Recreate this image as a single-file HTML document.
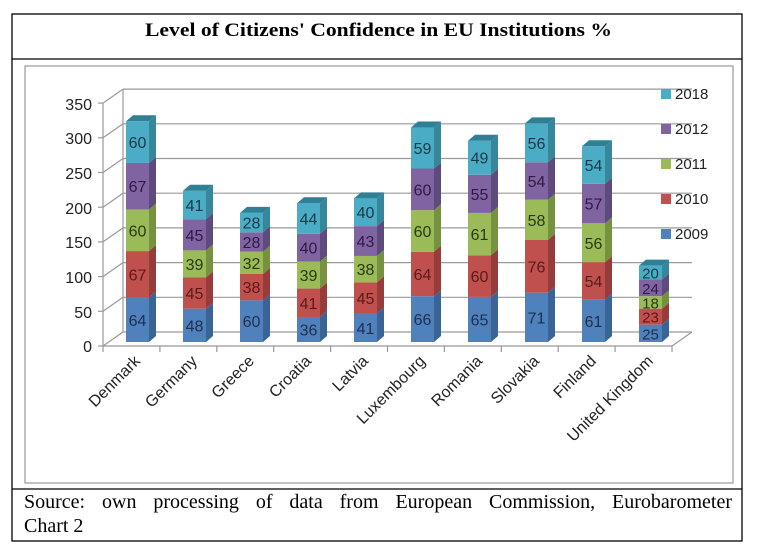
<!DOCTYPE html>
<html><head><meta charset="utf-8"><style>
body{margin:0;background:#fff;position:relative;}
svg{display:block;font-family:"Liberation Sans",sans-serif;}
#src{position:absolute;left:24px;top:490px;width:708px;font-family:"Liberation Serif",serif;font-size:20px;line-height:24px;}
#src .l1{display:block;text-align:justify;text-align-last:justify;}
</style></head><body>
<svg id="s" width="758" height="556" viewBox="0 0 758 556">
<rect x="12" y="14" width="730" height="527" fill="#fff" stroke="#000" stroke-width="1.3"/>
<line x1="12" y1="59" x2="742" y2="59" stroke="#000" stroke-width="1.3"/>
<line x1="12" y1="489" x2="742" y2="489" stroke="#000" stroke-width="1.3"/>
<text x="145" y="36" font-family="Liberation Serif,serif" font-weight="bold" font-size="19" textLength="467" lengthAdjust="spacingAndGlyphs">Level of Citizens' Confidence in EU Institutions %</text>
<rect x="25" y="66" width="708" height="417" fill="#fff" stroke="#999" stroke-width="1.2"/>
<g id="grid"></g>
<g id="bars"></g>
<g font-size="15" fill="#222">
<rect x="661" y="89" width="10" height="10" fill="#4bacc6"/><text x="675" y="99">2018</text>
<rect x="661" y="124" width="10" height="10" fill="#8064a2"/><text x="675" y="134">2012</text>
<rect x="661" y="159" width="10" height="10" fill="#9bbb59"/><text x="675" y="169">2011</text>
<rect x="661" y="194" width="10" height="10" fill="#c0504d"/><text x="675" y="204">2010</text>
<rect x="661" y="229" width="10" height="10" fill="#4f81bd"/><text x="675" y="239">2009</text>
</g>
<g font-size="16" fill="#222" text-anchor="end">
<text x="92" y="352">0</text><text x="92" y="318">50</text><text x="92" y="283">100</text><text x="92" y="248">150</text><text x="92" y="214">200</text><text x="92" y="179">250</text><text x="92" y="144">300</text><text x="92" y="110">350</text>
</g>
<g font-size="16" fill="#222" text-anchor="end">
<text transform="translate(141,362) rotate(-45)">Denmark</text>
<text transform="translate(198,362) rotate(-45)">Germany</text>
<text transform="translate(255,362) rotate(-45)">Greece</text>
<text transform="translate(312,362) rotate(-45)">Croatia</text>
<text transform="translate(369,362) rotate(-45)">Latvia</text>
<text transform="translate(426,362) rotate(-45)">Luxembourg</text>
<text transform="translate(483,362) rotate(-45)">Romania</text>
<text transform="translate(540,362) rotate(-45)">Slovakia</text>
<text transform="translate(597,362) rotate(-45)">Finland</text>
<text transform="translate(654,362) rotate(-45)">United Kingdom</text>
</g>
</svg>
<div id="src"><span class="l1">Source: own processing of data from European Commission, Eurobarometer</span>Chart 2</div>
<script>
var NS="http://www.w3.org/2000/svg";
function el(p,t,a,txt){var e=document.createElementNS(NS,t);for(var k in a)e.setAttribute(k,a[k]);if(txt!=null)e.textContent=txt;p.appendChild(e);return e;}
var g=document.getElementById('grid'),b=document.getElementById('bars');
var k=0.694,base0=346,dx=20,dy=-14;
for(var i=0;i<=7;i++){var y=base0-i*50*k;
 el(g,'line',{x1:103,y1:y,x2:103+dx,y2:y+dy,stroke:'#999','stroke-width':1.2});
 el(g,'line',{x1:103+dx,y1:y+dy,x2:692,y2:y+dy,stroke:'#999','stroke-width':1.2});
 el(g,'line',{x1:98,y1:y,x2:103,y2:y,stroke:'#999','stroke-width':1.2});}
el(g,'line',{x1:123,y1:base0+dy,x2:123,y2:base0-350*k+dy,stroke:'#999','stroke-width':1.2});
el(g,'line',{x1:103,y1:base0,x2:103,y2:base0-350*k,stroke:'#999','stroke-width':1.2});
el(g,'line',{x1:103,y1:base0,x2:672,y2:base0,stroke:'#999','stroke-width':1.2});
el(g,'line',{x1:672,y1:base0,x2:692,y2:base0+dy,stroke:'#999','stroke-width':1.2});
for(var i=0;i<=10;i++){var x=103+i*56.9;el(g,'line',{x1:x,y1:base0,x2:x,y2:base0+6,stroke:'#999','stroke-width':1.2});}
var data=[[64,67,60,67,60],[48,45,39,45,41],[60,38,32,28,28],[36,41,39,40,44],[41,45,38,43,40],[66,64,60,60,59],[65,60,61,55,49],[71,76,58,54,56],[61,54,56,57,54],[25,23,18,24,20]];
var fc=['#4f81bd','#c0504d','#9bbb59','#8064a2','#4bacc6'];
var sc=['#3a6496','#963c3a','#76913f','#5f4a7d','#37869c'];
var tc=['#1f2f4f','#5a1a1a','#2a3a10','#2e1a44','#1a3a48'];
var bw=23,ddx=7,ddy=-6,bb=342;
data.forEach(function(d,i){var x=126+i*57,cum=0;
 d.forEach(function(v,j){var y0=bb-cum*k,y1=bb-(cum+v)*k;cum+=v;
  el(b,'rect',{x:x,y:y1,width:bw,height:y0-y1,fill:fc[j]});
  el(b,'polygon',{points:[x+bw,y0,x+bw+ddx,y0+ddy,x+bw+ddx,y1+ddy,x+bw,y1].join(' '),fill:sc[j]});
  var fs=i==9?15:16;
  el(b,'text',{x:x+bw/2,y:(y0+y1)/2+6,'text-anchor':'middle','font-size':fs,fill:tc[j]},String(v));
 });
 var yt=bb-cum*k;
 el(b,'polygon',{points:[x,yt,x+ddx,yt+ddy,x+bw+ddx,yt+ddy,x+bw,yt].join(' '),fill:'#2f7f95'});
});
</script>
</body></html>
